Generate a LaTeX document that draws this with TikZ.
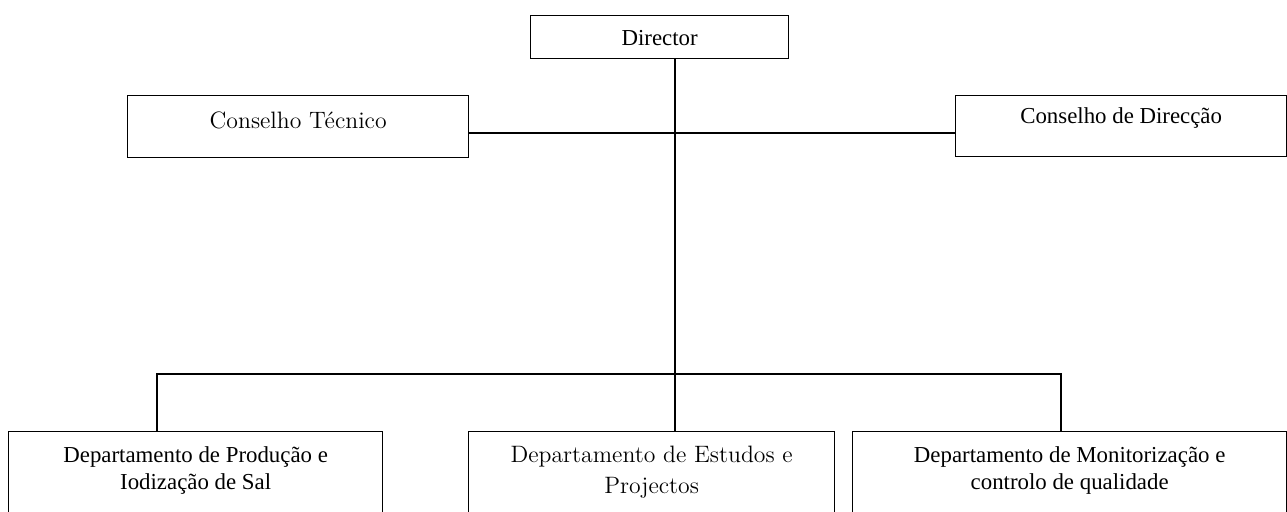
\documentclass[tikz,border=0pt]{standalone}
\usepackage{fontspec}
\setmainfont{Liberation Serif}
\newfontfamily\goudyfont{Latin Modern Roman}
\usetikzlibrary{positioning}

\begin{document}
\begin{tikzpicture}[
        x=0.02cm, y=-0.02cm,
        post/.style={rectangle, draw, line width=0.8pt, inner sep=0pt, anchor=north west, align=center, font=\fontsize{13}{15.4}\selectfont},
        oldpost/.style={post, font=\goudyfont\fontsize{13.5}{17.6}\selectfont},
        link/.style={line width=0.8pt}
    ]
        \useasboundingbox (0,0) rectangle (1287,511);

        % Director
        \node[post, minimum width=5.16cm, text height=0.6cm, text depth=0.26cm] (director) at (530,15) {Director};

        % Councils
        \node[oldpost, minimum width=6.82cm, text height=0.66cm, text depth=0.58cm] (tecnico) at (127,95) {Conselho Técnico};
        \node[post, minimum width=6.62cm, text height=0.56cm, text depth=0.66cm] (direccao) at (955,95) {Conselho de Direcção};

        % Departments
        \node[post, minimum width=7.48cm, text height=1.16cm, text depth=3cm] (producao) at (8,431) {Departamento de Produção e\\Iodização de Sal};
        \node[oldpost, minimum width=7.32cm, text height=1.24cm, text depth=3cm] (estudos) at (468,431) {Departamento de Estudos e\\Projectos};
        \node[post, minimum width=8.68cm, text height=1.16cm, text depth=3cm] (monitor) at (852,431) {Departamento de Monitorização e\\controlo de qualidade};

        % Connections
        \coordinate (trunk) at (675,0);
        \coordinate (council) at (0,133);
        \coordinate (busL) at (157,374);
        \coordinate (busR) at (1061,374);
        \draw[link] (director.south -| trunk) -- (estudos.north -| trunk);
        \draw[link] (tecnico.east |- council) -- (direccao.west |- council);
        \draw[link] (producao.north -| busL) -- (busL) -- (busR) -- (monitor.north -| busR);
    \end{tikzpicture}
\end{document}
